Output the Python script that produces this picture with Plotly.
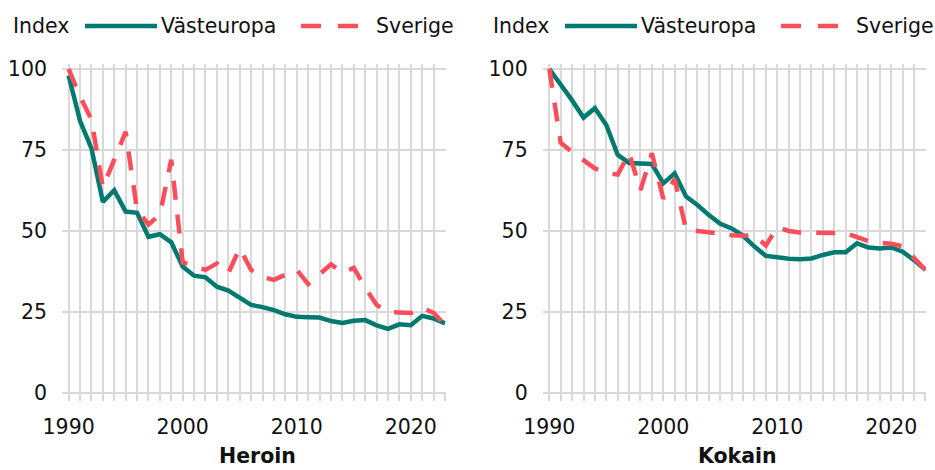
import plotly.graph_objects as go
from plotly.subplots import make_subplots

years = list(range(1990, 2024))

heroin_vasteuropa = [98, 84, 75.5, 59, 62.6, 56, 55.6, 48.2, 49, 46.5,
                     39, 36.2, 35.7, 32.8, 31.6, 29.5, 27.2, 26.5, 25.6, 24.3,
                     23.5, 23.4, 23.3, 22.2, 21.6, 22.3, 22.5, 20.9, 19.8, 21.2,
                     20.9, 23.8, 23, 21.5]
heroin_sverige = [100, 91.5, 84.4, 63.5, 72, 80.6, 56.5, 52, 55, 72,
                  40.3, 39, 38, 40, 37, 44.7, 38, 35.8, 34.9, 36.5,
                  38, 33.6, 36.5, 39.7, 37.2, 38.6, 32.5, 27.2, 25, 24.7,
                  24.7, 26.3, 24.7, 21]
kokain_vasteuropa = [100, 95.3, 90.3, 85, 87.9, 82.7, 73.5, 71, 70.9, 70.7,
                     64.7, 67.8, 60.6, 58, 54.9, 52.2, 50.8, 48.5, 45.2, 42.3,
                     41.9, 41.4, 41.3, 41.5, 42.6, 43.4, 43.4, 46.2, 44.9, 44.6,
                     44.9, 43.6, 41, 38]
kokain_sverige = [100, 77.2, 74.4, 72, 69.3, 67.9, 67.4, 74, 62.6, 74,
                  60, 66, 50.3, 50, 49.7, 49.2, 48.7, 48.5, 48.8, 45.5,
                  51.2, 50, 49.5, 49.4, 49.4, 49.3, 49.3, 48.1, 46.9, 46.4,
                  46.1, 45.3, 41.6, 38]

panel_titles = ["Heroin", "Kokain"]
series_names = ["Västeuropa", "Sverige"]
x_tickvals = [1990, 2000, 2010, 2020]
y_tickvals = [0, 25, 50, 75, 100]

TEAL = "#007a70"
RED = "#fa4f5a"
GRID = "#d9d9d9"
TXT = "#111111"
FONT = "DejaVu Sans"
FS = 20.5

W, H = 935, 470


def px(x):
    return x / W


def py(y):
    return (H - y) / H


fig = make_subplots(rows=1, cols=2)

panels = [(heroin_vasteuropa, heroin_sverige), (kokain_vasteuropa, kokain_sverige)]
for i, (vast, sve) in enumerate(panels, start=1):
    fig.add_trace(go.Scatter(x=years, y=vast, mode="lines", name=series_names[0],
                             line=dict(color=TEAL, width=4.5), showlegend=False),
                  row=1, col=i)
    fig.add_trace(go.Scatter(x=years, y=sve, mode="lines", name=series_names[1],
                             line=dict(color=RED, width=4.5, dash="19px,15px"),
                             showlegend=False),
                  row=1, col=i)

domains = [(62, 445.6), (542.7, 926)]
for i, (a, b) in enumerate(domains, start=1):
    xa = "xaxis" if i == 1 else "xaxis2"
    ya = "yaxis" if i == 1 else "yaxis2"
    fig.layout[xa].update(
        domain=[px(a), px(b)], range=[1989.42, 2023.05], automargin=False,
        tickvals=x_tickvals, ticktext=[str(v) for v in x_tickvals],
        showgrid=True, gridcolor=GRID, gridwidth=2,
        ticks="outside", ticklen=7, tickwidth=2, tickcolor=GRID,
        minor=dict(dtick=1, tick0=1990, showgrid=True, gridcolor=GRID, gridwidth=2,
                   ticks="outside", ticklen=7, tickwidth=2, tickcolor=GRID),
        zeroline=False, showline=False,
        tickfont=dict(family=FONT, size=FS, color=TXT),
        ticklabelstandoff=8,
    )
    fig.layout[ya].update(
        domain=[py(393), py(64.1)], range=[0, 101.5], automargin=False,
        tickvals=y_tickvals, showgrid=True, gridcolor=GRID, gridwidth=2,
        zeroline=True, zerolinecolor=GRID, zerolinewidth=2,
        ticks="", showline=False,
        tickfont=dict(family=FONT, size=FS, color=TXT),
        ticklabelstandoff=14,
    )

annotations = []
shapes = []
for off, title_x, title in [(0, 257.5, panel_titles[0]), (480, 737.5, panel_titles[1])]:
    annotations.append(dict(xref="paper", yref="paper", x=px(11 + off), y=py(26),
                            xanchor="left", yanchor="middle", text="Index", showarrow=False,
                            font=dict(family=FONT, size=FS, color=TXT)))
    annotations.append(dict(xref="paper", yref="paper", x=px(159 + off), y=py(26),
                            xanchor="left", yanchor="middle", text=series_names[0],
                            showarrow=False, font=dict(family=FONT, size=FS, color=TXT)))
    annotations.append(dict(xref="paper", yref="paper", x=px(374 + off), y=py(26),
                            xanchor="left", yanchor="middle", text=series_names[1],
                            showarrow=False, font=dict(family=FONT, size=FS, color=TXT)))
    shapes.append(dict(type="line", xref="paper", yref="paper",
                       x0=px(85 + off), x1=px(157 + off), y0=py(26), y1=py(26),
                       line=dict(color=TEAL, width=4.5)))
    shapes.append(dict(type="line", xref="paper", yref="paper",
                       x0=px(301 + off), x1=px(358 + off), y0=py(26), y1=py(26),
                       line=dict(color=RED, width=4.5, dash="20px,17px")))
    annotations.append(dict(xref="paper", yref="paper", x=px(title_x), y=py(470),
                            xanchor="center", yanchor="bottom", text="<b>%s</b>" % title,
                            showarrow=False, font=dict(family=FONT, size=FS, color=TXT)))

fig.update_layout(
    width=W, height=H,
    margin=dict(l=0, r=0, t=0, b=0, pad=0, autoexpand=False),
    paper_bgcolor="white", plot_bgcolor="white",
    annotations=annotations, shapes=shapes,
    showlegend=False,
)

fig.write_html("out.html",
               config={"displayModeBar": False},
               post_script="document.body.style.margin='0px';"
                           "document.body.style.overflow='hidden';")
